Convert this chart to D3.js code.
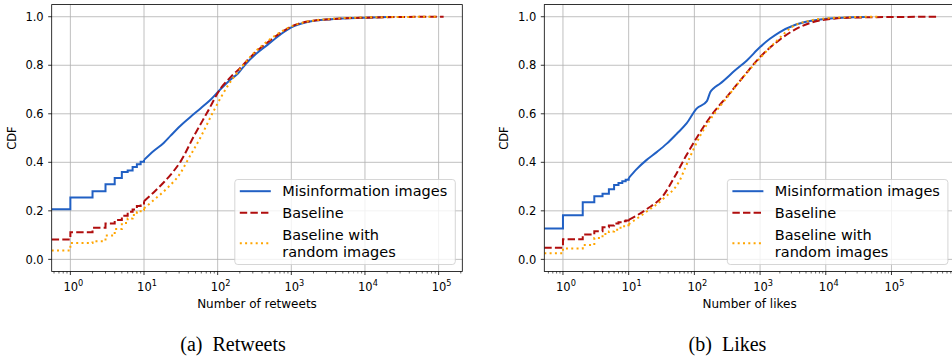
<!DOCTYPE html>
<html>
<head>
<meta charset="utf-8">
<script src="https://cdn.jsdelivr.net/npm/d3@7"></script>
<style>
  body { margin: 0; background: #fff; }
  text { font-family: "DejaVu Sans", sans-serif; fill: #000; }
  .caption { font-family: "Liberation Serif", "Times New Roman", serif; white-space: pre; }
</style>
</head>
<body>
<div id="chart"></div>
<script>
// -------------------------------------------------------------------------
// Data (x = count, y = CDF). x = 0 is the share of zero counts.

const retweetsMisinfo = [[0, 0.207], [1, 0.255], [2, 0.281], [3, 0.31], [4, 0.335], [5, 0.36],
  [6, 0.366], [7, 0.381], [8, 0.392], [9, 0.402], [10, 0.41], [13.5, 0.447], [18.5, 0.48],
  [23, 0.51], [31, 0.55], [43, 0.588], [59, 0.623], [80, 0.658], [110, 0.702], [150, 0.741],
  [190, 0.767], [240, 0.805], [330, 0.846], [475, 0.884], [720, 0.928], [1000, 0.956],
  [1660, 0.978], [3500, 0.99], [10000, 0.996], [25000, 0.999]];

const retweetsBaseline = [[0, 0.082], [1, 0.112], [2, 0.13], [3, 0.148], [4, 0.162], [5, 0.18],
  [6, 0.196], [7, 0.206], [8, 0.22], [9, 0.23], [10, 0.24], [13.5, 0.276], [18.6, 0.318],
  [25, 0.362], [31.6, 0.405], [48, 0.51], [72, 0.605], [110, 0.705], [151, 0.752], [204, 0.79],
  [316, 0.85], [479, 0.895], [724, 0.935], [1000, 0.96], [1660, 0.98], [3470, 0.99],
  [10000, 0.996], [31600, 0.999], [117000, 1.0]];

const retweetsRandom = [[0, 0.037], [1, 0.067], [2, 0.075], [3, 0.098], [4, 0.125], [5, 0.15],
  [6, 0.168], [7, 0.183], [8, 0.194], [9, 0.203], [10, 0.21], [13.5, 0.244], [20.4, 0.292],
  [31.6, 0.358], [39, 0.408], [59, 0.505], [89, 0.614], [135, 0.712], [204, 0.786],
  [316, 0.853], [479, 0.9], [724, 0.938], [1000, 0.96], [1660, 0.98], [3470, 0.991],
  [10000, 0.997], [100000, 1.0]];

const likesMisinfo = [[0, 0.127], [1, 0.182], [2, 0.235], [3, 0.26], [4, 0.27], [5, 0.289],
  [6, 0.306], [7, 0.315], [8, 0.322], [9, 0.328], [10, 0.335], [13, 0.37], [18.6, 0.409],
  [27, 0.443], [38, 0.477], [54, 0.518], [76, 0.56], [108, 0.621], [155, 0.652], [175, 0.69],
  [195, 0.704], [245, 0.724], [417, 0.779], [630, 0.82], [1000, 0.875], [1410, 0.909],
  [2000, 0.937], [3240, 0.964], [5750, 0.982], [10200, 0.992], [40000, 0.999]];

const likesBaseline = [[0, 0.048], [1, 0.083], [2, 0.102], [3, 0.116], [4, 0.132], [5, 0.14],
  [6, 0.148], [7, 0.153], [8, 0.157], [9, 0.16], [10, 0.163], [18.6, 0.206], [34, 0.265],
  [50, 0.34], [76, 0.43], [123, 0.525], [195, 0.605], [309, 0.669], [550, 0.751],
  [1000, 0.834], [1780, 0.895], [3240, 0.944], [5750, 0.974], [10200, 0.989],
  [30000, 0.997], [480000, 1.0]];

const likesRandom = [[0, 0.025], [1, 0.045], [2, 0.059], [3, 0.088], [4, 0.105], [5, 0.115],
  [6, 0.122], [7, 0.13], [8, 0.137], [9, 0.141], [10, 0.145], [18.6, 0.196], [34, 0.251],
  [60, 0.326], [76, 0.39], [123, 0.51], [195, 0.595], [309, 0.665], [550, 0.75],
  [1000, 0.83], [1780, 0.9], [3160, 0.96], [5750, 0.984], [10000, 0.993], [31600, 0.999],
  [63000, 1.0]];

const seriesNames = ['Misinformation images', 'Baseline', 'Baseline with\nrandom images'];
const yTicks = [0, 0.2, 0.4, 0.6, 0.8, 1.0];
const xTickExponents = [0, 1, 2, 3, 4, 5];

// -------------------------------------------------------------------------
// Styles

const seriesStyles = [
  { color: '#2160c4', dash: null },
  { color: '#b00d0d', dash: '7.4,3.2' },
  { color: '#ffa500', dash: '2,3.3' }
];

const panels = [
  { series: [retweetsMisinfo, retweetsBaseline, retweetsRandom], xLabel: 'Number of retweets',
    caption: '(a)  Retweets', left: 51.7, captionX: 233 },
  { series: [likesMisinfo, likesBaseline, likesRandom], xLabel: 'Number of likes',
    caption: '(b)  Likes', left: 544.3, captionX: 727.5 }
];

const width = 952;
const height = 358;
const plotWidth = 410.6;
const plotTop = 4.6;
const plotBottom = 271.5;

const svg = d3.select('#chart')
  .append('svg')
  .attr('width', width)
  .attr('height', height);

panels.forEach(panel => drawPanel(panel));

/**
 * @function drawPanel
 * Draws one CDF axes with grid, ticks, three series and legend
 */
function drawPanel(panel) {
  const left = panel.left;
  const right = left + plotWidth;
  const maxX = d3.max(panel.series, s => d3.max(s, d => d[0]));
  const hi = Math.log10(maxX);
  const pad = 0.05 * hi;

  const x = d3.scaleLog().domain([Math.pow(10, -pad), Math.pow(10, hi + pad)]).range([left, right]);
  const y = d3.scaleLinear().domain([-0.05, 1.05]).range([plotBottom, plotTop]);

  const g = svg.append('g');

  // grid
  g.selectAll('.gx').data(xTickExponents).enter().append('line')
    .attr('x1', d => x(Math.pow(10, d))).attr('x2', d => x(Math.pow(10, d)))
    .attr('y1', plotTop).attr('y2', plotBottom)
    .attr('stroke', '#b0b0b0').attr('stroke-width', 0.8);
  g.selectAll('.gy').data(yTicks).enter().append('line')
    .attr('x1', left).attr('x2', right)
    .attr('y1', d => y(d)).attr('y2', d => y(d))
    .attr('stroke', '#b0b0b0').attr('stroke-width', 0.8);

  // series
  const clipId = 'clip-' + Math.round(left);
  svg.append('clipPath').attr('id', clipId).append('rect')
    .attr('x', left).attr('y', plotTop).attr('width', plotWidth).attr('height', plotBottom - plotTop);
  const px = d => (d[0] === 0 ? left : x(d[0]));
  const stepLine = d3.line().x(px).y(d => y(d[1])).curve(d3.curveStepAfter);
  const tailLine = d3.line().x(px).y(d => y(d[1])).curve(d3.curveMonotoneX);
  const lines = g.append('g').attr('clip-path', `url(#${clipId})`);

  panel.series.forEach((data, i) => {
    const style = seriesStyles[i];
    const steps = data.filter(d => d[0] <= 10);
    const tail = data.filter(d => d[0] >= 10);
    [stepLine(steps), tailLine(tail)].forEach(path => {
      lines.append('path')
        .attr('d', path)
        .attr('fill', 'none')
        .attr('stroke', style.color)
        .attr('stroke-width', 2)
        .attr('stroke-dasharray', style.dash);
    });
  });

  // spines
  g.append('rect')
    .attr('x', left).attr('y', plotTop).attr('width', plotWidth).attr('height', plotBottom - plotTop)
    .attr('fill', 'none').attr('stroke', '#000').attr('stroke-width', 0.8);

  // y ticks
  yTicks.forEach(t => {
    g.append('line').attr('x1', left - 3.5).attr('x2', left)
      .attr('y1', y(t)).attr('y2', y(t)).attr('stroke', '#000').attr('stroke-width', 0.8);
    g.append('text').attr('x', left - 8).attr('y', y(t)).attr('dy', '0.36em')
      .attr('text-anchor', 'end').attr('font-size', 11.5).text(d3.format('.1f')(t));
  });

  // x ticks, major and minor
  const [d0, d1] = x.domain();
  for (let e = Math.floor(Math.log10(d0)); e <= Math.ceil(Math.log10(d1)); e++) {
    for (let m = 2; m <= 9; m++) {
      const v = m * Math.pow(10, e);
      if (v < d0 || v > d1) continue;
      g.append('line').attr('x1', x(v)).attr('x2', x(v))
        .attr('y1', plotBottom).attr('y2', plotBottom + 2)
        .attr('stroke', '#000').attr('stroke-width', 0.6);
    }
  }
  xTickExponents.forEach(e => {
    const xp = x(Math.pow(10, e));
    g.append('line').attr('x1', xp).attr('x2', xp)
      .attr('y1', plotBottom).attr('y2', plotBottom + 3.5)
      .attr('stroke', '#000').attr('stroke-width', 0.8);
    const label = g.append('text').attr('x', xp + 3).attr('y', plotBottom + 19)
      .attr('text-anchor', 'middle').attr('font-size', 11.5);
    label.append('tspan').text('10');
    label.append('tspan').attr('dy', -5).attr('font-size', 8.2).text(e);
  });

  // axis labels
  g.append('text').attr('x', left + plotWidth / 2).attr('y', 308)
    .attr('text-anchor', 'middle').attr('font-size', 12).text(panel.xLabel);
  g.append('text').attr('transform', `translate(${left - 36},${(plotTop + plotBottom) / 2}) rotate(-90)`)
    .attr('text-anchor', 'middle').attr('font-size', 11.5).text('CDF');

  // legend
  const lw = 220.5;
  const lh = 85;
  const lx = right - 7 - lw;
  const ly = plotBottom - 7 - lh;
  const legend = g.append('g').attr('transform', `translate(${lx},${ly})`);
  legend.append('rect').attr('width', lw).attr('height', lh).attr('rx', 3)
    .attr('fill', '#fff').attr('fill-opacity', 0.8)
    .attr('stroke', '#cccccc').attr('stroke-width', 0.8);
  const rowY = [11.7, 33.3, 63.7];
  seriesNames.forEach((name, i) => {
    const style = seriesStyles[i];
    legend.append('line').attr('x1', 5).attr('x2', 36).attr('y1', rowY[i]).attr('y2', rowY[i])
      .attr('stroke', style.color).attr('stroke-width', 2).attr('stroke-dasharray', style.dash);
    const parts = name.split('\n');
    parts.forEach((p, j) => {
      legend.append('text').attr('x', 47.4)
        .attr('y', rowY[i] + (j - (parts.length - 1) / 2) * 16.7).attr('dy', '0.36em')
        .attr('font-size', 14.5).text(p);
    });
  });

  // caption
  svg.append('text').attr('class', 'caption').attr('x', panel.captionX).attr('y', 351)
    .attr('text-anchor', 'middle').attr('font-size', 20).text(panel.caption);
}
</script>
</body>
</html>
